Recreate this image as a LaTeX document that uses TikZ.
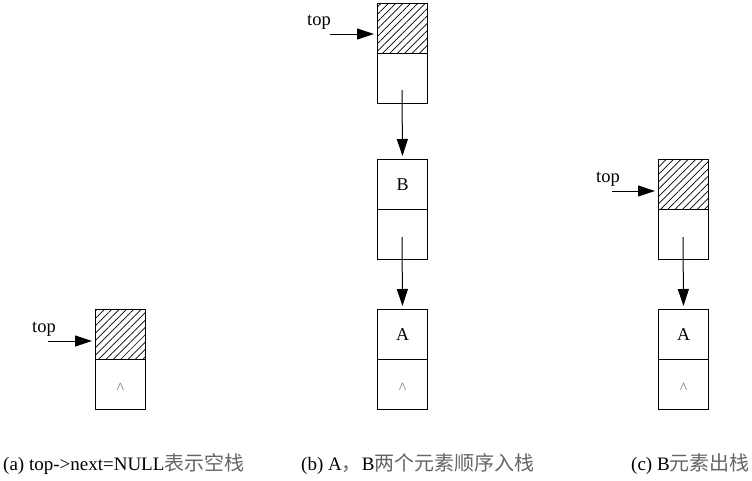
\documentclass[tikz,border=0pt]{standalone}
\usepackage{fontspec}
\setmainfont{Liberation Serif}
\newfontfamily\cjk{Noto Sans CJK SC}
\usetikzlibrary{arrows.meta,patterns.meta}
\newcommand{\zh}[1]{{\cjk\fontsize{20}{20}\selectfont\color{black!60}#1}}
\begin{document}
\begin{tikzpicture}[x=1pt,y=-1pt,
  cell/.style={draw, line width=1pt, minimum width=50pt, minimum height=50pt, inner sep=0pt, anchor=north west, font=\fontsize{18}{18}\selectfont},
  hatched/.style={cell, pattern={Lines[angle=45,distance=5.2pt,line width=0.7pt]}},
  ptr/.style={-{Triangle[length=17pt,width=11pt]}, line width=1pt, shorten >=3pt},
  toplbl/.style={anchor=base west, inner sep=0pt, font=\fontsize{18.5}{18}\selectfont},
  caret/.style={anchor=base, inner sep=0pt, text=black!55, font=\fontsize{16}{16}\selectfont},
  captxt/.style={anchor=base west, inner sep=0pt, font=\fontsize{19}{19}\selectfont}]
\useasboundingbox (0,0) rectangle (752,480);
% (a)
\node[hatched] (a1) at (95,309) {};
\node[cell] (a2) at (95,359) {};
\node[caret] (a2c) at ([yshift=-9pt]a2.center) {\textasciicircum};
\node[toplbl] (atop) at (32,332) {top};
\coordinate (atail) at (48,341);
\draw[ptr] (atail) -- (a1.west |- atail);
% (b)
\node[hatched] (b1) at (377,3) {};
\node[cell] (b2) at (377,53) {};
\node[cell] (bB) at (377,159) {B};
\node[cell] (bB2) at (377,209) {};
\node[cell] (bA) at (377,309) {A};
\node[cell] (bA2) at (377,359) {};
\node[caret] (bA2c) at ([yshift=-9pt]bA2.center) {\textasciicircum};
\node[toplbl] (btop) at (307,25) {top};
\coordinate (btail) at (330,34);
\draw[ptr] (btail) -- (b1.west |- btail);
\coordinate (bs1) at (402,90);
\draw[ptr] (bs1) -- (bB.north);
\coordinate (bs2) at (402,237);
\draw[ptr] (bs2) -- (bA.north);
% (c)
\node[hatched] (c1) at (658,159) {};
\node[cell] (c2) at (658,209) {};
\node[cell] (cA) at (658,309) {A};
\node[cell] (cA2) at (658,359) {};
\node[caret] (cA2c) at ([yshift=-9pt]cA2.center) {\textasciicircum};
\node[toplbl] (ctop) at (596,182) {top};
\coordinate (ctail) at (612,191);
\draw[ptr] (ctail) -- (c1.west |- ctail);
\coordinate (cs) at (683,237);
\draw[ptr] (cs) -- (cA.north);
% captions
\node[captxt] (capa) at (3,470) {(a) top->next=NULL\zh{表示空栈}};
\node[captxt] (capb) at (301,470) {(b) A\zh{，}B\zh{两个元素顺序入栈}};
\node[captxt] (capc) at (631,470) {(c) B\zh{元素出栈}};
\end{tikzpicture}
\end{document}
